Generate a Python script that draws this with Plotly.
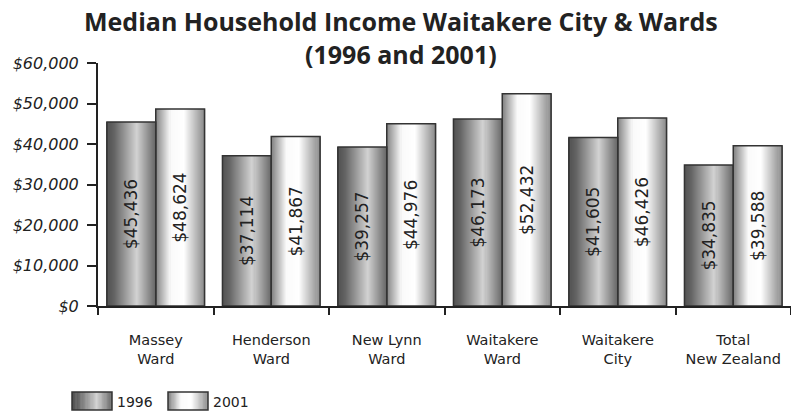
import plotly.graph_objects as go

# ---- data ----
categories = ["Massey<br>Ward", "Henderson<br>Ward", "New Lynn<br>Ward",
              "Waitakere<br>Ward", "Waitakere<br>City", "Total<br>New Zealand"]
income_1996 = [45436, 37114, 39257, 46173, 41605, 34835]
income_2001 = [48624, 41867, 44976, 52432, 46426, 39588]
series_names = ["1996", "2001"]
y_ticks = [0, 10000, 20000, 30000, 40000, 50000, 60000]
y_tick_labels = ["$0", "$10,000", "$20,000", "$30,000", "$40,000", "$50,000", "$60,000"]
title_lines = ["Median Household Income Waitakere City & Wards", "(1996 and 2001)"]

# ---- styles ----
W = 0.4225        # bar width in category units
N = 48            # gradient slices
grad_1996 = [(0.0, 80), (0.15, 100), (0.62, 210), (1.0, 105)]
grad_2001 = [(0.0, 125), (0.32, 250), (0.58, 255), (1.0, 140)]
FONT = "DejaVu Sans"
TITLE_FONT = "Open Sans"
INK = "#222222"


def gray_at(stops, t):
    for (t0, g0), (t1, g1) in zip(stops, stops[1:]):
        if t0 <= t <= t1:
            g = g0 + (g1 - g0) * (t - t0) / (t1 - t0)
            g = int(round(g))
            return f"rgb({g},{g},{g})"
    g = stops[-1][1]
    return f"rgb({g},{g},{g})"


fig = go.Figure()

for values, stops, base in [(income_1996, grad_1996, -W), (income_2001, grad_2001, 0.0)]:
    for i in range(N):
        t = (i + 0.5) / N
        fig.add_trace(go.Bar(
            x=categories, y=values,
            width=W / N * 1.6, offset=base + i * W / N,
            marker=dict(color=gray_at(stops, t), line=dict(width=0)),
            showlegend=False, hoverinfo="skip"))

for values, base, name in [(income_1996, -W, series_names[0]), (income_2001, 0.0, series_names[1])]:
    fig.add_trace(go.Bar(
        x=categories, y=values, name=name,
        width=W, offset=base,
        marker=dict(color="rgba(0,0,0,0)", line=dict(color="#333333", width=1.5)),
        texttemplate="$%{y:,}", textposition="inside", insidetextanchor="middle",
        textangle=-90, constraintext="none",
        textfont=dict(family=FONT, size=17, color=INK),
        showlegend=False))

# ---- manual legend (gradient swatches) and title, placed in pixels ----
plot_l, plot_w = 98, 693
plot_b, plot_h = 306, 243


def px_x(p):
    return (p - plot_l) / plot_w


def px_y(p):
    return (plot_b - p) / plot_h


legend_items = [(72, grad_1996, series_names[0]), (168, grad_2001, series_names[1])]
for x0, stops, label in legend_items:
    sw = 40
    for i in range(N):
        t = (i + 0.5) / N
        x1 = min(x0 + (i + 1.6) * sw / N, x0 + sw)
        fig.add_shape(type="rect", xref="paper", yref="paper",
                      x0=px_x(x0 + i * sw / N), x1=px_x(x1),
                      y0=px_y(410), y1=px_y(392),
                      fillcolor=gray_at(stops, t), line=dict(width=0))
    fig.add_shape(type="rect", xref="paper", yref="paper",
                  x0=px_x(x0), x1=px_x(x0 + sw), y0=px_y(410), y1=px_y(392),
                  fillcolor="rgba(0,0,0,0)", line=dict(color="#333333", width=1.5))
    fig.add_annotation(xref="paper", yref="paper", x=px_x(x0 + sw + 3), y=px_y(402),
                       text=label, showarrow=False, xanchor="left", yanchor="middle",
                       font=dict(family=FONT, size=14, color=INK))

fig.add_annotation(xref="paper", yref="paper", x=px_x(401), y=px_y(38),
                   xanchor="center", yanchor="middle", showarrow=False,
                   text="<br>".join(title_lines),
                   font=dict(family=TITLE_FONT, size=25, color=INK, weight=700))

fig.update_layout(
    width=791, height=417,
    margin=dict(l=98, r=0, t=63, b=111),
    paper_bgcolor="white", plot_bgcolor="white",
    barmode="overlay",
    xaxis=dict(type="category", range=[-0.5, 5.5], showline=True, linecolor=INK, linewidth=2,
               ticks="outside", tickson="boundaries", ticklen=7, tickwidth=2, tickcolor=INK,
               showgrid=False, ticklabelstandoff=20, automargin=False,
               tickfont=dict(family=FONT, size=14.5, color=INK)),
    yaxis=dict(range=[0, 60000], tickvals=y_ticks, ticktext=y_tick_labels,
               showline=True, linecolor=INK, linewidth=2, ticks="outside", ticklen=9,
               tickwidth=2, tickcolor=INK, showgrid=False, zeroline=False,
               ticklabelstandoff=5, automargin=False,
               tickfont=dict(family=FONT, size=16, color=INK, style="italic")),
)

fig.write_html("out.html", config={"displayModeBar": False},
               post_script="document.body.style.margin='0';")
